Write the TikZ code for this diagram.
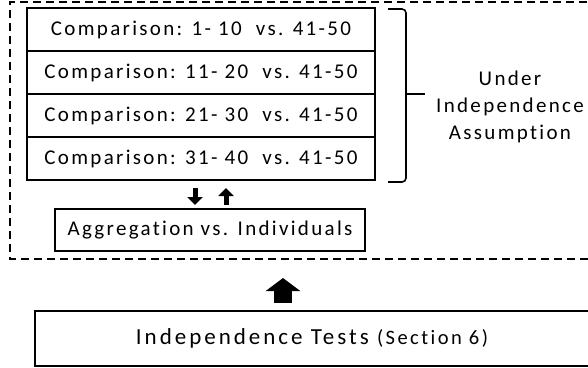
\documentclass[tikz,border=0pt]{standalone}
\usepackage{fontspec}
\setmainfont{Carlito}
\newfontfamily\lsfont[LetterSpace=11,Ligatures=NoCommon]{Carlito}
\newfontfamily\lsbig[LetterSpace=13,Ligatures=NoCommon]{Carlito}
\newfontfamily\lssec[LetterSpace=12,Ligatures=NoCommon]{Carlito}
\usetikzlibrary{arrows.meta}
\begin{document}
\begin{tikzpicture}[x=1pt,y=-1pt,
  rowbox/.style={draw,line width=1.6pt,minimum width=348pt,minimum height=43pt,inner sep=0pt,font=\lsfont\fontsize{21}{24}\selectfont},
  plainbox/.style={draw,line width=1.6pt,inner sep=0pt,font=\lsfont\fontsize{21}{24}\selectfont},
  smallarrow/.style={line width=5pt,-{Triangle[width=15pt,length=8pt]}},
  bigarrow/.style={line width=18pt,-{Triangle[width=34pt,length=13pt]}}]
\useasboundingbox (0,0) rectangle (588,367);
\clip (0,0) rectangle (588,367);
% dashed frame
\draw[line width=1.6pt,dash pattern=on 8pt off 5pt] (600,2) -- (10,2) -- (10,259) -- (600,259);
% comparison rows
\node[rowbox] (c1) at (201,29.5) {Comparison: 1- 10\ \ vs. 41-50};
\node[rowbox] (c2) at (201,72.5) {Comparison: 11- 20\ \ vs. 41-50};
\node[rowbox] (c3) at (201,115.5) {Comparison: 21- 30\ \ vs. 41-50};
\node[rowbox] (c4) at (201,158.5) {Comparison: 31- 40\ \ vs. 41-50};
% brace
\draw[line width=1.6pt,rounded corners=4pt] (388,9) -- (406,9) -- (406,182) -- (388,182);
\draw[line width=1.6pt] (406,94) -- (425,94);
\node[font=\lsfont\fontsize{21}{27}\selectfont,align=center,inner sep=0pt] (ua) at (510,107) {Under\\Independence\\Assumption};
% aggregation
\node[plainbox,minimum width=310pt,minimum height=42pt] (agg) at (210,230) {Aggregation vs. Individuals};
\coordinate (d1) at (195,188);
\coordinate (d2) at (195,205);
\coordinate (u1) at (226,205);
\coordinate (u2) at (226,188);
\draw[smallarrow] (d1) -- (d2);
\draw[smallarrow] (u1) -- (u2);
% independence tests
\node[plainbox,minimum width=554pt,minimum height=55pt] (it) at (312,338.5) {\lsbig\fontsize{23}{26}\selectfont Independence Tests {\lssec\fontsize{20.5}{22}\selectfont(Section 6)}};
\coordinate (b1) at (283,303);
\coordinate (b2) at (283,278);
\draw[bigarrow] (b1) -- (b2);
\end{tikzpicture}
\end{document}
